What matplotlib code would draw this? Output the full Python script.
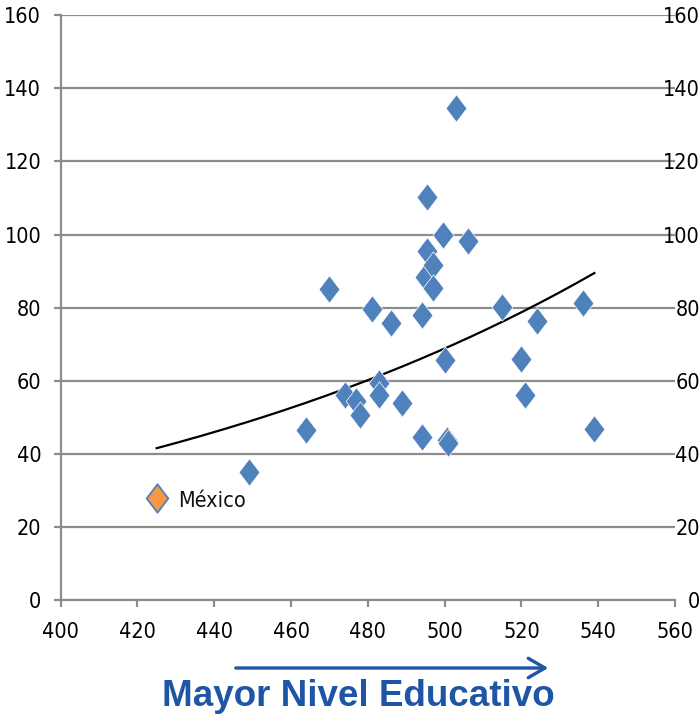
import matplotlib
matplotlib.use("Agg")
import numpy as np
import matplotlib.pyplot as plt
from matplotlib.path import Path
from matplotlib import font_manager

# -------------------------
# datos
# -------------------------

# puntaje educativo (eje x) y valor (eje y) por país
score = [449, 464, 470, 474, 477, 478, 481, 483, 483, 486, 489, 494, 494,
         495, 495.5, 495.5, 497, 497, 500, 499.6, 500.6, 501, 503, 506,
         515, 520, 521, 524, 536, 539]
value = [35, 46.5, 85, 56, 54.5, 50.6, 79.6, 59.4, 56, 75.8, 54, 78, 44.6,
         88.4, 110.3, 95.5, 91.7, 85.4, 65.7, 99.9, 43.8, 43, 134.6, 98.2,
         80.2, 66, 56.1, 76.4, 81.3, 46.8]

mex_score = 425
mex_value = 28

x_ticks = list(range(400, 561, 20))
y_ticks = list(range(0, 161, 20))

BLUE = "#4F81BD"
ORANGE = "#F79646"
GRID = "#8C8C8C"
TITLE_BLUE = "#1F55A5"

# fuente estrecha para los números de los ejes
narrow = font_manager.FontProperties(family="DejaVu Sans", stretch="condensed", size=15.5)

# rombo algo más alto que ancho
diamond = Path([(0, 1), (0.76, 0), (0, -1), (-0.76, 0), (0, 1)],
               [Path.MOVETO, Path.LINETO, Path.LINETO, Path.LINETO, Path.CLOSEPOLY])

fig = plt.figure(figsize=(7.0, 7.18), dpi=100)
ax = fig.add_axes([0.0867, 0.164, 0.8776, 0.815])

# líneas de cuadrícula horizontales
for y in y_ticks:
    ax.axhline(y, color=GRID, lw=1.6, zorder=1)

# línea de tendencia exponencial ajustada a todos los puntos
all_x = np.array([mex_score] + score, dtype=float)
all_y = np.array([mex_value] + value, dtype=float)
b, ln_a = np.polyfit(all_x, np.log(all_y), 1)
tx = np.linspace(all_x.min(), all_x.max(), 200)
ax.plot(tx, np.exp(ln_a + b * tx), color="black", lw=1.6, zorder=2)

ax.scatter(score, value, marker=diamond, s=390, color=BLUE,
           edgecolors="white", linewidths=0.5, zorder=3)
ax.scatter([mex_score], [mex_value], marker=diamond, s=420, color=ORANGE,
           edgecolors=BLUE, linewidths=1.3, zorder=4)
ax.text(mex_score + 5.5, mex_value - 0.8, "México", fontproperties=narrow,
        va="center", ha="left", color="#111111")

ax.set_xlim(400, 560)
ax.set_ylim(0, 160)
ax.set_xticks(x_ticks)
ax.set_yticks(y_ticks)

for side in ["top", "right"]:
    ax.spines[side].set_visible(False)
for side in ["left", "bottom"]:
    ax.spines[side].set_color(GRID)
    ax.spines[side].set_linewidth(1.6)

ax.tick_params(axis="both", colors=GRID, width=1.6, length=5, labelcolor="black")
ax.tick_params(axis="x", pad=11)
ax.tick_params(axis="y", pad=9)
for lab in ax.get_xticklabels() + ax.get_yticklabels():
    lab.set_fontproperties(narrow)

# etiquetas duplicadas a la derecha
ax2 = ax.twinx()
ax2.set_ylim(0, 160)
ax2.set_yticks(y_ticks)
for side in ["top", "right", "left", "bottom"]:
    ax2.spines[side].set_visible(False)
ax2.tick_params(axis="y", length=0, pad=18)
for lab in ax2.get_yticklabels():
    lab.set_fontproperties(narrow)
    lab.set_horizontalalignment("right")

# flecha y rótulo inferior
fig.patches.append(matplotlib.patches.FancyArrowPatch(
    (233 / 700, 1 - 668 / 718), (551 / 700, 1 - 668 / 718),
    transform=fig.transFigure, arrowstyle="->,head_length=12,head_width=7",
    color=TITLE_BLUE, lw=2.4, mutation_scale=1))
fig.text(358 / 700, 1 - 696 / 718, "Mayor Nivel Educativo",
         family=["Liberation Sans", "DejaVu Sans"], fontsize=26.5,
         fontweight="bold", color=TITLE_BLUE, ha="center", va="center")

fig.savefig("out.png", dpi=100)
